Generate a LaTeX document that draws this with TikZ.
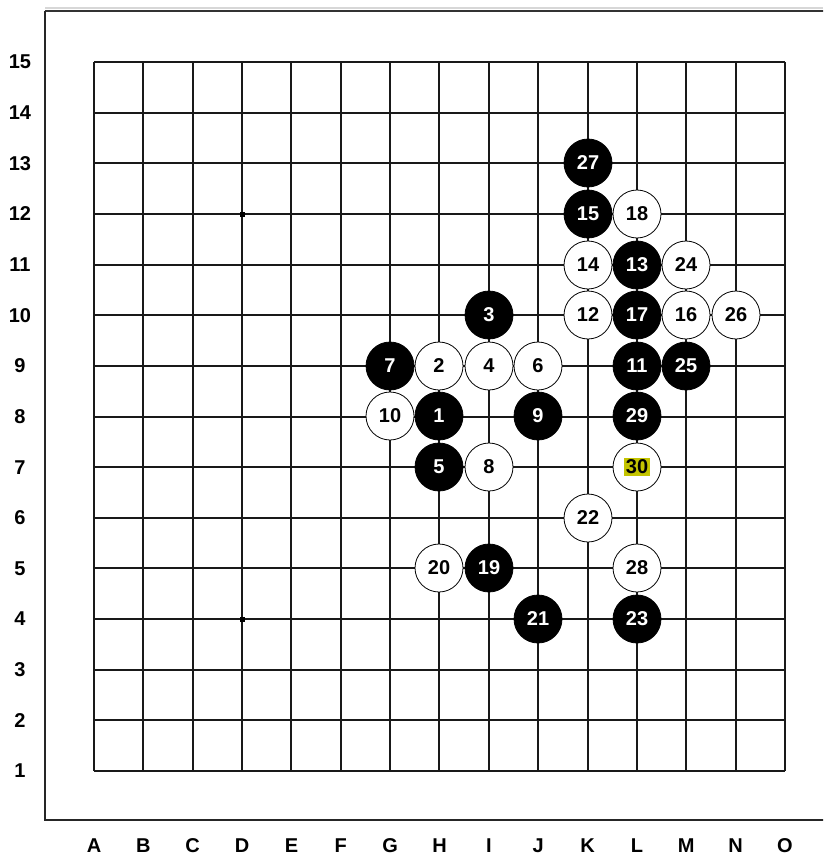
\documentclass[tikz,border=0pt]{standalone}
\usepackage{fontspec}
\setmainfont{Liberation Sans}
\definecolor{hilite}{RGB}{196,196,0}
\definecolor{topgrey}{RGB}{215,215,215}
\newcommand{\gostone}[4]{\node[#1] (s#2) at ({round(94+49.357*#3)},{round(771-50.643*(#4-1))}) {#2};}
\begin{document}
\begin{tikzpicture}[x=1pt,y=-1pt,
  stonetext/.style={font=\fontsize{20}{20}\selectfont\bfseries},
  bstone/.style={circle,fill=black,draw=black,line width=0.8pt,minimum size=48pt,inner sep=0pt,text=white,stonetext},
  wstone/.style={circle,fill=white,draw=black,line width=0.8pt,minimum size=48pt,inner sep=0pt,text=black,stonetext},
  coordlabel/.style={font=\fontsize{20}{20}\selectfont\bfseries,inner sep=0pt},
  gridline/.style={line width=1.6pt,black!90},
  starpt/.style={fill=black,minimum size=5pt,inner sep=0pt,rectangle}]
\useasboundingbox (0,0) rectangle (823,856);
\clip (0,0) rectangle (823,856);
\fill[white] (0,0) rectangle (823,856);
% top grey strip and frame
\draw[topgrey,line width=2pt] (45,8) -- (823,8);
\draw[line width=1.6pt,black!80] (45,11) -- (830,11);
\draw[line width=1.6pt,black!85] (830,820) -- (45,820) -- (45,11);
% grid
\foreach \i in {0,...,14} {
  \draw[gridline] ({round(94+49.357*\i)},62) -- ({round(94+49.357*\i)},771);
  \draw[gridline] (94,{round(62+50.643*\i)}) -- (785,{round(62+50.643*\i)});
}
% star points
\node[starpt] (star1) at ({round(94+49.357*3)},{round(771-50.643*11)}) {};
\node[starpt] (star2) at ({round(94+49.357*3)},{round(771-50.643*3)}) {};
% coordinate labels
\foreach \r in {1,...,15} {
  \node[coordlabel] (row\r) at (20,{771-50.643*(\r-1)}) {\r};
}
\foreach \l [count=\c from 0] in {A,B,C,D,E,F,G,H,I,J,K,L,M,N,O} {
  \node[coordlabel] (col\l) at ({94+49.357*\c},846) {\l};
}
% stones
\gostone{bstone}{1}{7}{8}
\gostone{wstone}{2}{7}{9}
\gostone{bstone}{3}{8}{10}
\gostone{wstone}{4}{8}{9}
\gostone{bstone}{5}{7}{7}
\gostone{wstone}{6}{9}{9}
\gostone{bstone}{7}{6}{9}
\gostone{wstone}{8}{8}{7}
\gostone{bstone}{9}{9}{8}
\gostone{wstone}{10}{6}{8}
\gostone{bstone}{11}{11}{9}
\gostone{wstone}{12}{10}{10}
\gostone{bstone}{13}{11}{11}
\gostone{wstone}{14}{10}{11}
\gostone{bstone}{15}{10}{12}
\gostone{wstone}{16}{12}{10}
\gostone{bstone}{17}{11}{10}
\gostone{wstone}{18}{11}{12}
\gostone{bstone}{19}{8}{5}
\gostone{wstone}{20}{7}{5}
\gostone{bstone}{21}{9}{4}
\gostone{wstone}{22}{10}{6}
\gostone{bstone}{23}{11}{4}
\gostone{wstone}{24}{12}{11}
\gostone{bstone}{25}{12}{9}
\gostone{wstone}{26}{13}{10}
\gostone{bstone}{27}{10}{13}
\gostone{wstone}{28}{11}{5}
\gostone{bstone}{29}{11}{8}
\node[wstone] (s30) at ({round(94+49.357*11)},{round(771-50.643*6)}) {};
\node[stonetext,fill=hilite,inner sep=1.5pt] (s30label) at (s30.center) {30};
\end{tikzpicture}
\end{document}
